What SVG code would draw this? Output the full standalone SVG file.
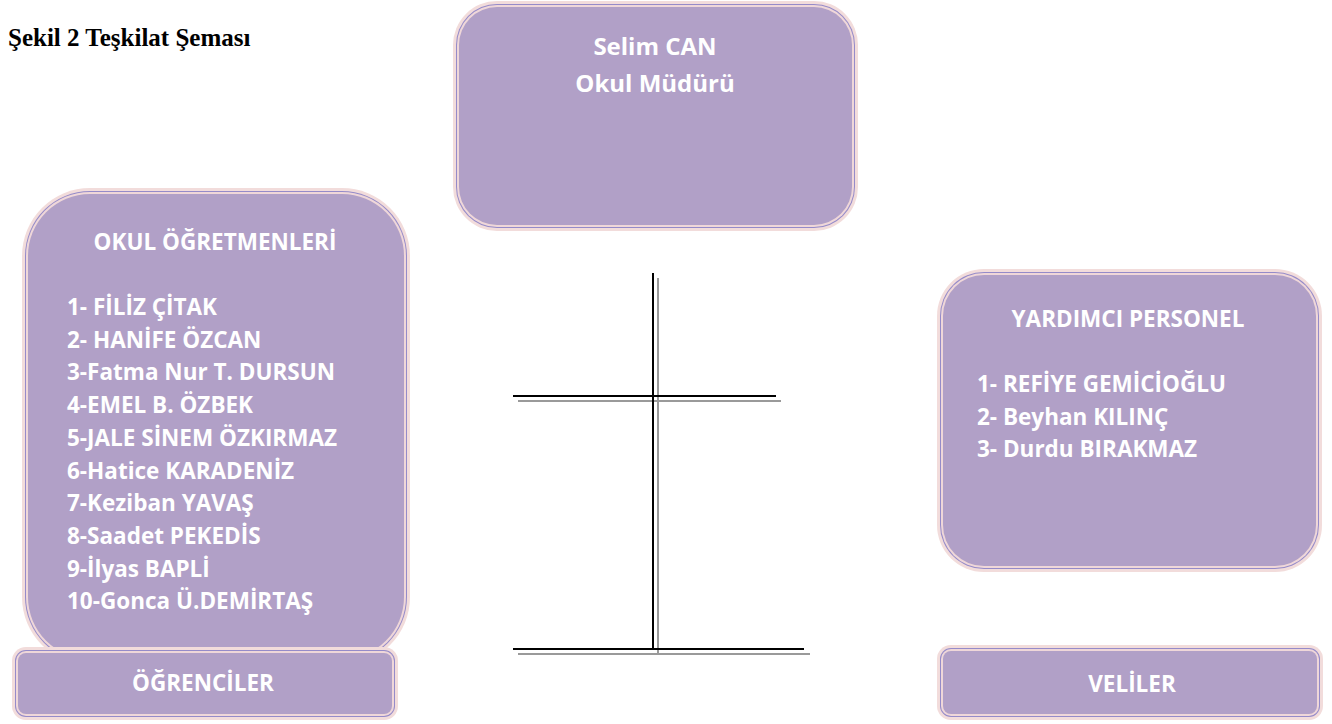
<svg xmlns="http://www.w3.org/2000/svg" width="1332" height="724" viewBox="0 0 1332 724">
<style>
.l1{fill:#f2dcdb}
.l2{fill:#958bc9}
.l3{fill:#efd7d9}
.l4{fill:#b1a0c7}
.t{font-family:"Open Sans","Liberation Sans",sans-serif;font-weight:700;font-size:22.5px;fill:#ffffff}
.c{text-anchor:middle}
.title{font-family:"Liberation Serif","Times New Roman",serif;font-weight:700;font-size:25px;fill:#000}
.k{stroke:#000;stroke-width:2;fill:none}
.g{stroke:#9a9a9a;stroke-width:2;fill:none}
</style>
<rect width="1332" height="724" fill="#ffffff"/>
<text class="title" x="8" y="46">Şekil 2 Teşkilat Şeması</text>

<g id="mudur">
<rect class="l1" x="453" y="1" width="405" height="230" rx="44"/>
<rect class="l2" x="456" y="4" width="399" height="224" rx="41"/>
<rect class="l3" x="457" y="5" width="397" height="222" rx="40"/>
<rect class="l4" x="459" y="7" width="393" height="218" rx="38"/>
<text class="t c" x="655" y="55" style="font-size:24px">Selim CAN</text>
<text class="t c" x="655" y="92" style="font-size:24px">Okul Müdürü</text>
</g>

<g id="ogretmenler">
<rect class="l1" x="22" y="188" width="388" height="477" rx="68"/>
<rect class="l2" x="25" y="191" width="382" height="471" rx="65"/>
<rect class="l3" x="26" y="192" width="380" height="469" rx="64"/>
<rect class="l4" x="28" y="194" width="376" height="465" rx="62"/>
<text class="t c" x="215" y="250">OKUL ÖĞRETMENLERİ</text>
<text class="t" x="67" y="315">1- FİLİZ ÇİTAK</text>
<text class="t" x="67" y="347.7">2- HANİFE ÖZCAN</text>
<text class="t" x="67" y="380.4">3-Fatma Nur T. DURSUN</text>
<text class="t" x="67" y="413">4-EMEL B. ÖZBEK</text>
<text class="t" x="67" y="445.8">5-JALE SİNEM ÖZKIRMAZ</text>
<text class="t" x="67" y="478.5">6-Hatice KARADENİZ</text>
<text class="t" x="67" y="511">7-Keziban YAVAŞ</text>
<text class="t" x="67" y="543.9">8-Saadet PEKEDİS</text>
<text class="t" x="67" y="576.6">9-İlyas BAPLİ</text>
<text class="t" x="67" y="609">10-Gonca Ü.DEMİRTAŞ</text>
</g>

<g id="ogrenciler">
<rect class="l1" x="12" y="647" width="386" height="73" rx="14"/>
<rect class="l2" x="15" y="650" width="380" height="67" rx="11"/>
<rect class="l3" x="16" y="651" width="378" height="65" rx="10"/>
<rect class="l4" x="18" y="653" width="374" height="61" rx="8"/>
<text class="t c" x="203" y="691">ÖĞRENCİLER</text>
</g>

<g id="yardimci">
<rect class="l1" x="937" y="269" width="385" height="303" rx="47"/>
<rect class="l2" x="940" y="272" width="379" height="297" rx="44"/>
<rect class="l3" x="941" y="273" width="377" height="295" rx="43"/>
<rect class="l4" x="943" y="275" width="373" height="291" rx="41"/>
<text class="t c" x="1128" y="327">YARDIMCI PERSONEL</text>
<text class="t" x="977" y="392">1- REFİYE GEMİCİOĞLU</text>
<text class="t" x="977" y="425">2- Beyhan KILINÇ</text>
<text class="t" x="977" y="457">3- Durdu BIRAKMAZ</text>
</g>

<g id="veliler">
<rect class="l1" x="937" y="645" width="386" height="75" rx="14"/>
<rect class="l2" x="940" y="648" width="380" height="69" rx="11"/>
<rect class="l3" x="941" y="649" width="378" height="67" rx="10"/>
<rect class="l4" x="943" y="651" width="374" height="63" rx="8"/>
<text class="t c" x="1132" y="692">VELİLER</text>
</g>

<g id="connectors">
<line class="g" x1="658" y1="278" x2="658" y2="655"/>
<line class="g" x1="518" y1="401" x2="781" y2="401"/>
<line class="g" x1="518" y1="654" x2="810" y2="654"/>
<line class="k" x1="653" y1="273" x2="653" y2="650"/>
<line class="k" x1="513" y1="396" x2="776" y2="396"/>
<line class="k" x1="513" y1="649" x2="804" y2="649"/>
</g>
</svg>
